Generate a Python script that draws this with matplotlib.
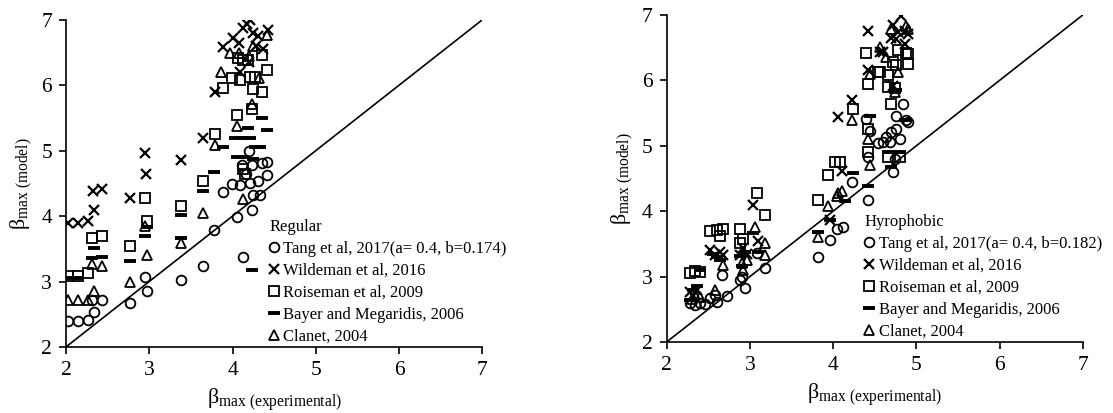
import matplotlib
matplotlib.use("Agg")
import matplotlib.pyplot as plt

plt.rcParams["font.family"] = ["Liberation Serif", "DejaVu Serif"]
plt.rcParams["mathtext.fontset"] = "custom"
plt.rcParams["mathtext.rm"] = "Liberation Serif"
plt.rcParams["mathtext.it"] = "Liberation Serif:italic"

# ---- Regular surface (left) ----
reg_tang_x = [2.03, 2.14, 2.27, 2.34, 2.31, 2.43, 2.77, 2.95, 2.97, 3.38, 3.64, 3.78, 3.89, 3.99, 4.05,
              4.09, 4.11, 4.13, 4.21, 4.23, 4.24, 4.25, 4.31, 4.33, 4.35, 4.41, 4.41, 4.20, 4.16]
reg_tang_y = [2.39, 2.39, 2.41, 2.53, 2.72, 2.71, 2.67, 3.07, 2.86, 3.02, 3.23, 3.78, 4.37, 4.49, 3.99,
              4.48, 4.78, 3.38, 4.50, 4.78, 4.09, 4.32, 4.53, 4.32, 4.81, 4.63, 4.82, 5.00, 4.65]
reg_wild_x = [2.03, 2.14, 2.27, 2.34, 2.32, 2.43, 2.77, 2.95, 2.96, 3.38, 3.65, 3.79, 3.89, 4.00, 4.08,
              4.09, 4.13, 4.17, 4.20, 4.21, 4.25, 4.28, 4.31, 4.37, 4.43]
reg_wild_y = [3.90, 3.90, 3.93, 4.09, 4.39, 4.42, 4.28, 4.97, 4.65, 4.86, 5.20, 5.90, 6.59, 6.72, 6.65,
              6.21, 6.87, 6.93, 6.35, 7.00, 6.80, 6.60, 6.75, 6.56, 6.85]
reg_rois_x = [2.03, 2.14, 2.27, 2.31, 2.43, 2.77, 2.95, 2.97, 3.38, 3.64, 3.79, 3.88, 3.99, 4.05, 4.07,
              4.09, 4.13, 4.13, 4.15, 4.19, 4.21, 4.24, 4.25, 4.27, 4.35, 4.35, 4.41]
reg_rois_y = [3.08, 3.08, 3.13, 3.67, 3.70, 3.54, 4.28, 3.93, 4.16, 4.53, 5.26, 5.96, 6.11, 5.55, 6.41,
              6.08, 6.39, 4.72, 4.65, 6.39, 6.13, 5.63, 5.94, 6.13, 5.90, 6.46, 6.23]
reg_bayer_x = [2.03, 2.14, 2.34, 2.31, 2.43, 2.77, 2.95, 2.97, 3.38, 3.38, 3.64, 3.78, 3.89, 4.03, 4.05,
               4.13, 4.13, 4.19, 4.21, 4.23, 4.27, 4.33, 4.35, 4.41, 4.25]
reg_bayer_y = [3.05, 3.05, 3.51, 3.36, 3.37, 3.32, 3.70, 3.84, 4.02, 3.66, 4.38, 4.68, 5.05, 5.19, 4.91,
               5.19, 4.91, 5.34, 5.19, 3.17, 5.06, 5.06, 5.50, 5.31, 4.88]
reg_clan_x = [2.03, 2.14, 2.27, 2.34, 2.31, 2.43, 2.77, 2.95, 2.97, 3.38, 3.64, 3.79, 3.86, 3.97, 4.05,
              4.08, 4.13, 4.24, 4.25, 4.32, 4.42, 4.20]
reg_clan_y = [2.71, 2.71, 2.72, 2.85, 3.27, 3.24, 3.00, 3.85, 3.41, 3.59, 4.05, 5.08, 6.21, 6.50, 5.37,
              6.49, 4.26, 5.72, 6.60, 6.11, 6.77, 6.45]

# ---- Hydrophobic surface (right) ----
hyd_tang_x = [2.28, 2.34, 2.40, 2.46, 2.52, 2.60, 2.58, 2.72, 2.66, 2.88, 2.94, 2.90, 3.08, 3.18, 3.82,
              3.96, 4.04, 4.12, 4.22, 4.42, 4.42, 4.40, 4.54, 4.60, 4.64, 4.68, 4.72, 4.74, 4.76, 4.80,
              4.84, 4.88, 4.90, 4.70, 4.76, 4.44]
hyd_tang_y = [2.59, 2.56, 2.59, 2.58, 2.67, 2.61, 2.72, 2.71, 3.02, 2.95, 2.82, 3.00, 3.36, 3.13, 3.30,
              3.56, 3.73, 3.76, 4.45, 4.17, 4.83, 5.41, 5.04, 5.06, 5.14, 5.06, 4.60, 4.80, 5.26, 5.11,
              5.64, 5.40, 5.36, 5.21, 5.46, 5.23]
hyd_wild_x = [2.28, 2.32, 2.36, 2.52, 2.58, 2.64, 2.68, 2.88, 2.92, 2.96, 3.04, 3.10, 3.96, 4.06, 4.10,
              4.22, 4.42, 4.42, 4.56, 4.60, 4.70, 4.72, 4.72, 4.76, 4.78, 4.82, 4.86, 4.86, 4.90]
hyd_wild_y = [2.77, 2.70, 2.79, 3.40, 3.33, 3.38, 3.33, 3.33, 3.43, 3.34, 4.09, 3.55, 3.86, 5.44, 4.62,
              5.70, 6.76, 6.15, 6.44, 6.43, 6.65, 5.92, 6.84, 6.63, 6.74, 6.99, 6.76, 6.56, 6.70]
hyd_rois_x = [2.28, 2.34, 2.40, 2.52, 2.60, 2.68, 2.64, 2.88, 2.92, 2.88, 3.08, 3.18, 3.82, 3.94, 4.02,
              4.08, 4.24, 4.40, 4.42, 4.42, 4.42, 4.54, 4.56, 4.66, 4.66, 4.70, 4.72, 4.74, 4.76, 4.78,
              4.88, 4.90, 4.90, 4.66, 4.80]
hyd_rois_y = [3.05, 3.08, 3.07, 3.70, 3.71, 3.72, 3.62, 3.72, 3.58, 3.52, 4.27, 3.94, 4.17, 4.55, 4.75,
              4.75, 5.56, 6.41, 5.95, 5.26, 4.90, 6.13, 6.13, 6.08, 5.90, 5.64, 6.28, 5.88, 6.23, 6.47,
              6.41, 6.25, 6.40, 4.83, 4.83]
hyd_bayer_x = [2.28, 2.32, 2.36, 2.40, 2.56, 2.60, 2.64, 2.88, 2.90, 2.94, 3.04, 3.10, 3.82, 3.96, 4.14,
               4.24, 4.42, 4.66, 4.80, 4.70, 4.76, 4.44, 4.86]
hyd_bayer_y = [2.64, 2.80, 2.86, 3.10, 3.35, 3.30, 3.25, 3.31, 3.16, 3.38, 3.67, 3.38, 3.68, 3.86, 4.16,
               4.59, 4.39, 4.90, 4.90, 4.68, 5.85, 5.45, 5.40]
hyd_clan_x = [2.30, 2.34, 2.40, 2.58, 2.68, 2.90, 2.96, 2.92, 3.06, 3.18, 3.18, 3.82, 3.94, 4.04, 4.06,
              4.10, 4.22, 4.42, 4.44, 4.44, 4.56, 4.70, 4.74, 4.78, 4.88, 4.90, 4.64]
hyd_clan_y = [2.66, 2.72, 2.68, 2.80, 3.17, 3.20, 3.25, 3.10, 3.76, 3.51, 3.33, 3.60, 4.08, 4.23, 4.27,
              4.30, 5.39, 5.11, 6.10, 4.70, 6.51, 6.79, 5.82, 6.13, 6.83, 6.79, 6.35]

ticks = [2, 3, 4, 5, 6, 7]


def draw_panel(ax, series, tang_label, title, leg_x):
    ax.plot([2, 7], [2, 7], color="black", lw=1.2, zorder=1)
    styles = [
        dict(marker="o", ms=7, mfc="none", mec="black", mew=1.3),
        dict(marker="x", ms=7, mec="black", mew=1.6),
        dict(marker="s", ms=6.5, mfc="none", mec="black", mew=1.3),
        dict(marker="_", ms=8, mec="black", mew=2.8),
        dict(marker="^", ms=6.5, mfc="none", mec="black", mew=1.3),
    ]
    labels = [tang_label, "Wildeman et al, 2016", "Roiseman et al, 2009",
              "Bayer and Megaridis, 2006", "Clanet, 2004"]
    for (xs, ys), st, lab in zip(series, styles, labels):
        ax.plot(xs, ys, ls="none", label=lab, zorder=2, **st)
    ax.set_xlim(2, 7)
    ax.set_ylim(2, 7)
    ax.set_xticks(ticks)
    ax.set_yticks(ticks)
    ax.spines["top"].set_visible(False)
    ax.spines["right"].set_visible(False)
    for s in ("left", "bottom"):
        ax.spines[s].set_linewidth(1.2)
    ax.tick_params(direction="out", length=5, width=1.2, labelsize=15.5, pad=5)
    ax.set_xlabel(r"$\mathrm{\beta}_{\mathrm{max\ (experimental)}}$", fontsize=16, labelpad=5)
    ax.set_ylabel(r"$\mathrm{\beta}_{\mathrm{max\ (model)}}$", fontsize=16, labelpad=5)
    ax.legend(loc="upper left", bbox_to_anchor=(leg_x, 0.39), frameon=False, title=title,
              alignment="left", fontsize=12, title_fontsize=12, handlelength=0.6,
              handletextpad=0.25, labelspacing=0.35, borderpad=0, borderaxespad=0)


fig = plt.figure(figsize=(11.13, 4.13), dpi=100)
ax1 = fig.add_axes([0.0593, 0.160, 0.374, 0.792])
ax2 = fig.add_axes([0.599, 0.172, 0.374, 0.792])

draw_panel(ax1,
           [(reg_tang_x, reg_tang_y), (reg_wild_x, reg_wild_y), (reg_rois_x, reg_rois_y),
            (reg_bayer_x, reg_bayer_y), (reg_clan_x, reg_clan_y)],
           "Tang et al, 2017(a= 0.4, b=0.174)", "Regular", 0.488)
draw_panel(ax2,
           [(hyd_tang_x, hyd_tang_y), (hyd_wild_x, hyd_wild_y), (hyd_rois_x, hyd_rois_y),
            (hyd_bayer_x, hyd_bayer_y), (hyd_clan_x, hyd_clan_y)],
           "Tang et al, 2017(a= 0.4, b=0.182)", "Hyrophobic", 0.475)

fig.savefig("out.png", dpi=100)
